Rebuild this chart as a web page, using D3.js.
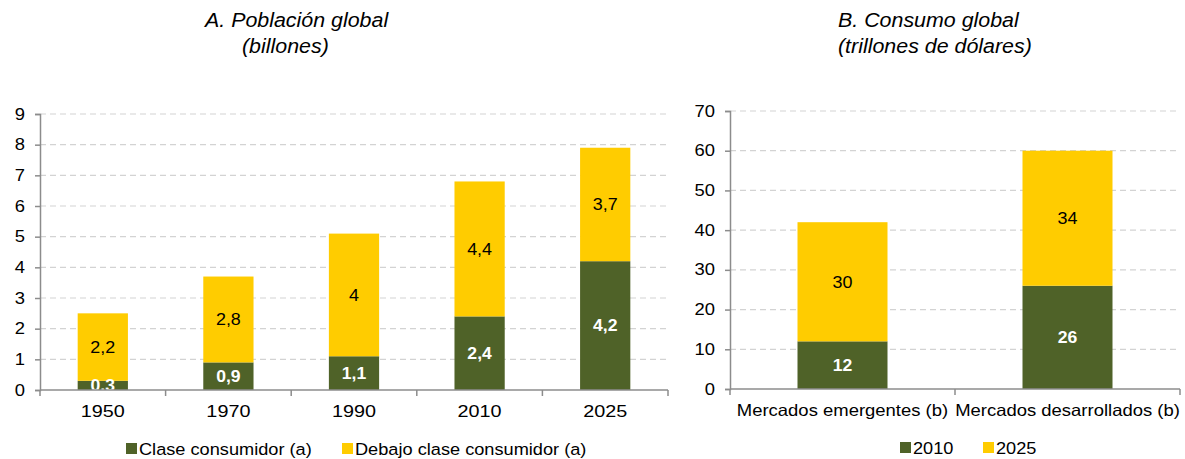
<!DOCTYPE html>
<html>
<head>
<meta charset="utf-8">
<script src="https://cdn.jsdelivr.net/npm/d3@7"></script>
<style>
  body { margin: 0; background: #fff; }
  svg { display: block; font-family: "Liberation Sans", Arial, sans-serif; }
</style>
</head>
<body>
<svg id="chart" width="1185" height="459"></svg>
<script>
// Panel A: world population (billions)
const popYears = ["1950", "1970", "1990", "2010", "2025"];
const popConsumer = [0.3, 0.9, 1.1, 2.4, 4.2];
const popBelow = [2.2, 2.8, 4, 4.4, 3.7];
const popTicks = [0, 1, 2, 3, 4, 5, 6, 7, 8, 9];
const popSeriesNames = ["Clase consumidor (a)", "Debajo clase consumidor (a)"];

// Panel B: world consumption (trillion dollars)
const marketCats = ["Mercados emergentes (b)", "Mercados desarrollados (b)"];
const cons2010 = [12, 26];
const cons2025 = [30, 34];
const consTicks = [0, 10, 20, 30, 40, 50, 60, 70];
const consSeriesNames = ["2010", "2025"];

const GREEN = "#4f6228";
const YELLOW = "#ffcc00";
const AXIS = "#8c8c8c";
const GRID = "#d3d3d3";

const svg = d3.select("#chart");
const fmt = v => String(v).replace(".", ",");

// Widen text horizontally: scale around the origin and compensate x.
function widen(sel, sx) {
  sel.each(function () {
    const t = d3.select(this);
    const x = +t.attr("x") || 0;
    t.attr("x", x / sx).attr("transform", `scale(${sx},1)`);
  });
  return sel;
}

function panel(opts) {
  const g = svg.append("g");
  const x = d3.scaleBand().domain(opts.cats)
    .range([opts.x0, opts.x1]).paddingInner(0.6).paddingOuter(0.3);
  const y = d3.scaleLinear().domain([0, opts.max]).range([opts.y0, opts.y1]);

  // dashed gridlines
  g.selectAll("line.grid").data(opts.ticks.filter(t => t > 0)).enter()
    .append("line")
    .attr("x1", opts.x0).attr("x2", opts.x1)
    .attr("y1", d => y(d)).attr("y2", d => y(d))
    .attr("stroke", GRID).attr("stroke-width", 1.2)
    .attr("stroke-dasharray", "6,4");

  // stacked bars
  const rows = opts.cats.map((c, i) => ({ c, a: opts.s1[i], b: opts.s2[i] }));
  g.selectAll("rect.s1").data(rows).enter().append("rect")
    .attr("x", d => x(d.c)).attr("width", x.bandwidth())
    .attr("y", d => y(d.a)).attr("height", d => y(0) - y(d.a))
    .attr("fill", GREEN);
  g.selectAll("rect.s2").data(rows).enter().append("rect")
    .attr("x", d => x(d.c)).attr("width", x.bandwidth())
    .attr("y", d => y(d.a + d.b)).attr("height", d => y(d.a) - y(d.a + d.b))
    .attr("fill", YELLOW);

  // value labels
  widen(g.selectAll("text.l1").data(rows).enter().append("text")
    .attr("x", d => x(d.c) + x.bandwidth() / 2)
    .attr("y", d => y(d.a / 2))
    .attr("dy", "0.36em")
    .attr("text-anchor", "middle")
    .attr("fill", "#fff").attr("font-weight", "bold")
    .attr("font-size", 16)
    .text(d => fmt(d.a)), 1.1);
  widen(g.selectAll("text.l2").data(rows).enter().append("text")
    .attr("x", d => x(d.c) + x.bandwidth() / 2)
    .attr("y", d => y(d.a + d.b / 2))
    .attr("dy", "0.36em")
    .attr("text-anchor", "middle")
    .attr("fill", "#000")
    .attr("font-size", 16)
    .text(d => fmt(d.b)), 1.12);

  // y axis
  const ya = g.append("g").attr("transform", `translate(${opts.x0},0)`)
    .call(d3.axisLeft(y).tickValues(opts.ticks).tickSize(5).tickPadding(10)
      .tickFormat(d => d));
  ya.select(".domain").attr("stroke", AXIS).attr("stroke-width", 1.5);
  ya.selectAll(".tick line").attr("stroke", AXIS).attr("stroke-width", 1.5);
  widen(ya.selectAll(".tick text").attr("font-size", 16).attr("fill", "#000")
    .attr("font-family", "Liberation Sans, Arial, sans-serif"), 1.15);

  // x axis with ticks at category boundaries
  g.append("line").attr("x1", opts.x0).attr("x2", opts.x1)
    .attr("y1", y(0)).attr("y2", y(0))
    .attr("stroke", AXIS).attr("stroke-width", 1.5);
  const bounds = d3.range(opts.cats.length + 1).map(i => opts.x0 + i * x.step());
  g.selectAll("line.xt").data(bounds).enter().append("line")
    .attr("x1", d => d).attr("x2", d => d)
    .attr("y1", y(0)).attr("y2", y(0) + 6)
    .attr("stroke", AXIS).attr("stroke-width", 1.5);
  widen(g.selectAll("text.xl").data(opts.cats).enter().append("text")
    .attr("x", d => x(d) + x.bandwidth() / 2)
    .attr("y", y(0) + 21)
    .attr("dy", "0.36em")
    .attr("text-anchor", "middle")
    .attr("font-size", 16.5)
    .text(d => d), opts.xStretch);

  // titles
  opts.titles.forEach(t => {
    widen(g.append("text").attr("x", t.x).attr("y", t.y)
      .attr("font-size", 20).attr("font-style", "italic")
      .text(t.text), 1.07);
  });

  // legend
  opts.legend.forEach((l, i) => {
    g.append("rect").attr("x", l.x).attr("y", l.y - 6)
      .attr("width", 11).attr("height", 11)
      .attr("fill", i === 0 ? GREEN : YELLOW);
    widen(g.append("text").attr("x", l.x + 13).attr("y", l.y)
      .attr("dy", "0.36em").attr("font-size", 17)
      .text(l.text), 1.07);
  });
}

panel({
  cats: popYears, s1: popConsumer, s2: popBelow, ticks: popTicks, max: 9,
  x0: 40, x1: 668, y0: 390, y1: 114, xStretch: 1.2,
  titles: [
    { x: 205, y: 27, text: "A. Población global" },
    { x: 242, y: 53, text: "(billones)" }
  ],
  legend: [
    { x: 126, y: 449, text: popSeriesNames[0] },
    { x: 342, y: 449, text: popSeriesNames[1] }
  ]
});

panel({
  cats: marketCats, s1: cons2010, s2: cons2025, ticks: consTicks, max: 70,
  x0: 730, x1: 1180, y0: 389, y1: 111, xStretch: 1.12,
  titles: [
    { x: 838, y: 27, text: "B. Consumo global" },
    { x: 838, y: 53, text: "(trillones de dólares)" }
  ],
  legend: [
    { x: 900, y: 448, text: consSeriesNames[0] },
    { x: 983, y: 448, text: consSeriesNames[1] }
  ]
});
</script>
</body>
</html>
